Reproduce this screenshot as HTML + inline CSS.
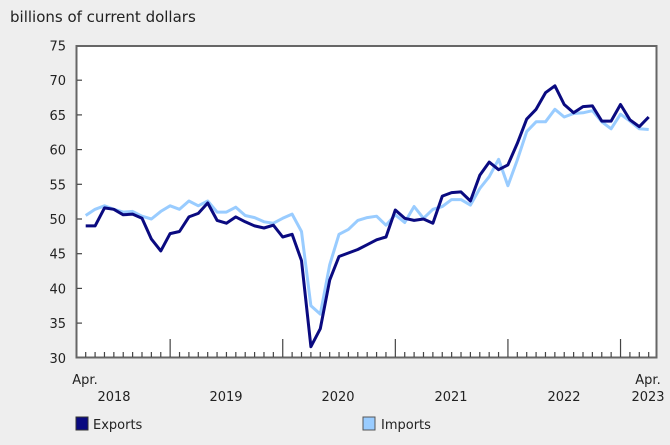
<!DOCTYPE html>
<html><head><meta charset="utf-8"><style>
html,body{margin:0;padding:0;background:#eeeeee;}
svg{display:block;font-family:"DejaVu Sans","Liberation Sans",sans-serif;}
</style></head><body>
<svg id="c" width="670" height="445" viewBox="0 0 670 445" xmlns="http://www.w3.org/2000/svg">
<rect width="670" height="445" fill="#eeeeee"/>
<text x="10" y="22" font-size="15" fill="#222">billions of current dollars</text>
<rect x="76.5" y="46" width="580" height="311.5" fill="#fff" stroke="#666" stroke-width="2"/>
<g id="yt" font-size="13" fill="#222" text-anchor="end"></g>
<g id="xt" stroke="#444" stroke-width="1.2"></g>
<polyline id="imp" fill="none" stroke="#99ccff" stroke-width="3" stroke-linejoin="round"/>
<polyline id="exp" fill="none" stroke="#0a0a80" stroke-width="3" stroke-linejoin="round"/>
<g font-size="13" fill="#222">
<text x="85" y="384" text-anchor="middle">Apr.</text>
<text x="114" y="401" text-anchor="middle">2018</text>
<text x="226" y="401" text-anchor="middle">2019</text>
<text x="338" y="401" text-anchor="middle">2020</text>
<text x="451" y="401" text-anchor="middle">2021</text>
<text x="564" y="401" text-anchor="middle">2022</text>
<text x="648" y="384" text-anchor="middle">Apr.</text>
<text x="648" y="401" text-anchor="middle">2023</text>
<rect x="76" y="417" width="12" height="13" fill="#0a0a80" stroke="#333" stroke-width="1"/>
<text x="93" y="429">Exports</text>
<rect x="363" y="417" width="12" height="13" fill="#99ccff" stroke="#555" stroke-width="1"/>
<text x="381" y="429">Imports</text>
</g>
</svg>
<script>
var E=[49,49,51.6,51.4,50.6,50.7,50.1,47.1,45.4,47.9,48.2,50.3,50.8,52.3,49.8,49.4,50.3,49.6,49,48.7,49.1,47.4,47.8,44,31.6,34.2,41.2,44.6,45.1,45.6,46.3,47,47.4,51.3,50.1,49.8,50,49.4,53.3,53.8,53.9,52.6,56.3,58.2,57.1,57.8,60.9,64.4,65.8,68.2,69.2,66.5,65.3,66.2,66.3,64.1,64.1,66.5,64.3,63.3,64.7];
var I=[50.5,51.4,51.9,51.4,51,51.1,50.4,50,51.1,51.9,51.4,52.6,51.9,52.6,51,51,51.7,50.5,50.2,49.6,49.4,50.1,50.7,48.2,37.5,36.3,43.4,47.8,48.5,49.8,50.2,50.4,49.1,50.6,49.5,51.8,50.1,51.4,51.8,52.8,52.8,52,54.4,56.1,58.6,54.8,58.5,62.6,64,64,65.8,64.7,65.2,65.3,65.6,64,63,65.1,64.1,63,62.9];
function X(i){return 85.7+i*9.383;}
function Y(v){return 45.5+(75-v)*6.94;}
function pts(a){return a.map(function(v,i){return X(i).toFixed(1)+","+Y(v).toFixed(1)}).join(" ");}
document.getElementById("exp").setAttribute("points",pts(E));
document.getElementById("imp").setAttribute("points",pts(I));
var ns="http://www.w3.org/2000/svg",yt=document.getElementById("yt"),xt=document.getElementById("xt");
for(var v=30;v<=75;v+=5){var t=document.createElementNS(ns,"text");t.setAttribute("x",66);t.setAttribute("y",Y(v)+5);t.textContent=v;yt.appendChild(t);
 if(v>30&&v<75){var l=document.createElementNS(ns,"line");l.setAttribute("x1",77);l.setAttribute("x2",82);l.setAttribute("y1",Y(v));l.setAttribute("y2",Y(v));l.setAttribute("stroke","#444");xt.appendChild(l);}}
for(var i=0;i<61;i++){var l=document.createElementNS(ns,"line");var x=X(i);var maj=((i-9)%12===0);
 l.setAttribute("x1",x);l.setAttribute("x2",x);l.setAttribute("y1",maj?339:352);l.setAttribute("y2",357);xt.appendChild(l);}
</script>
</body></html>
